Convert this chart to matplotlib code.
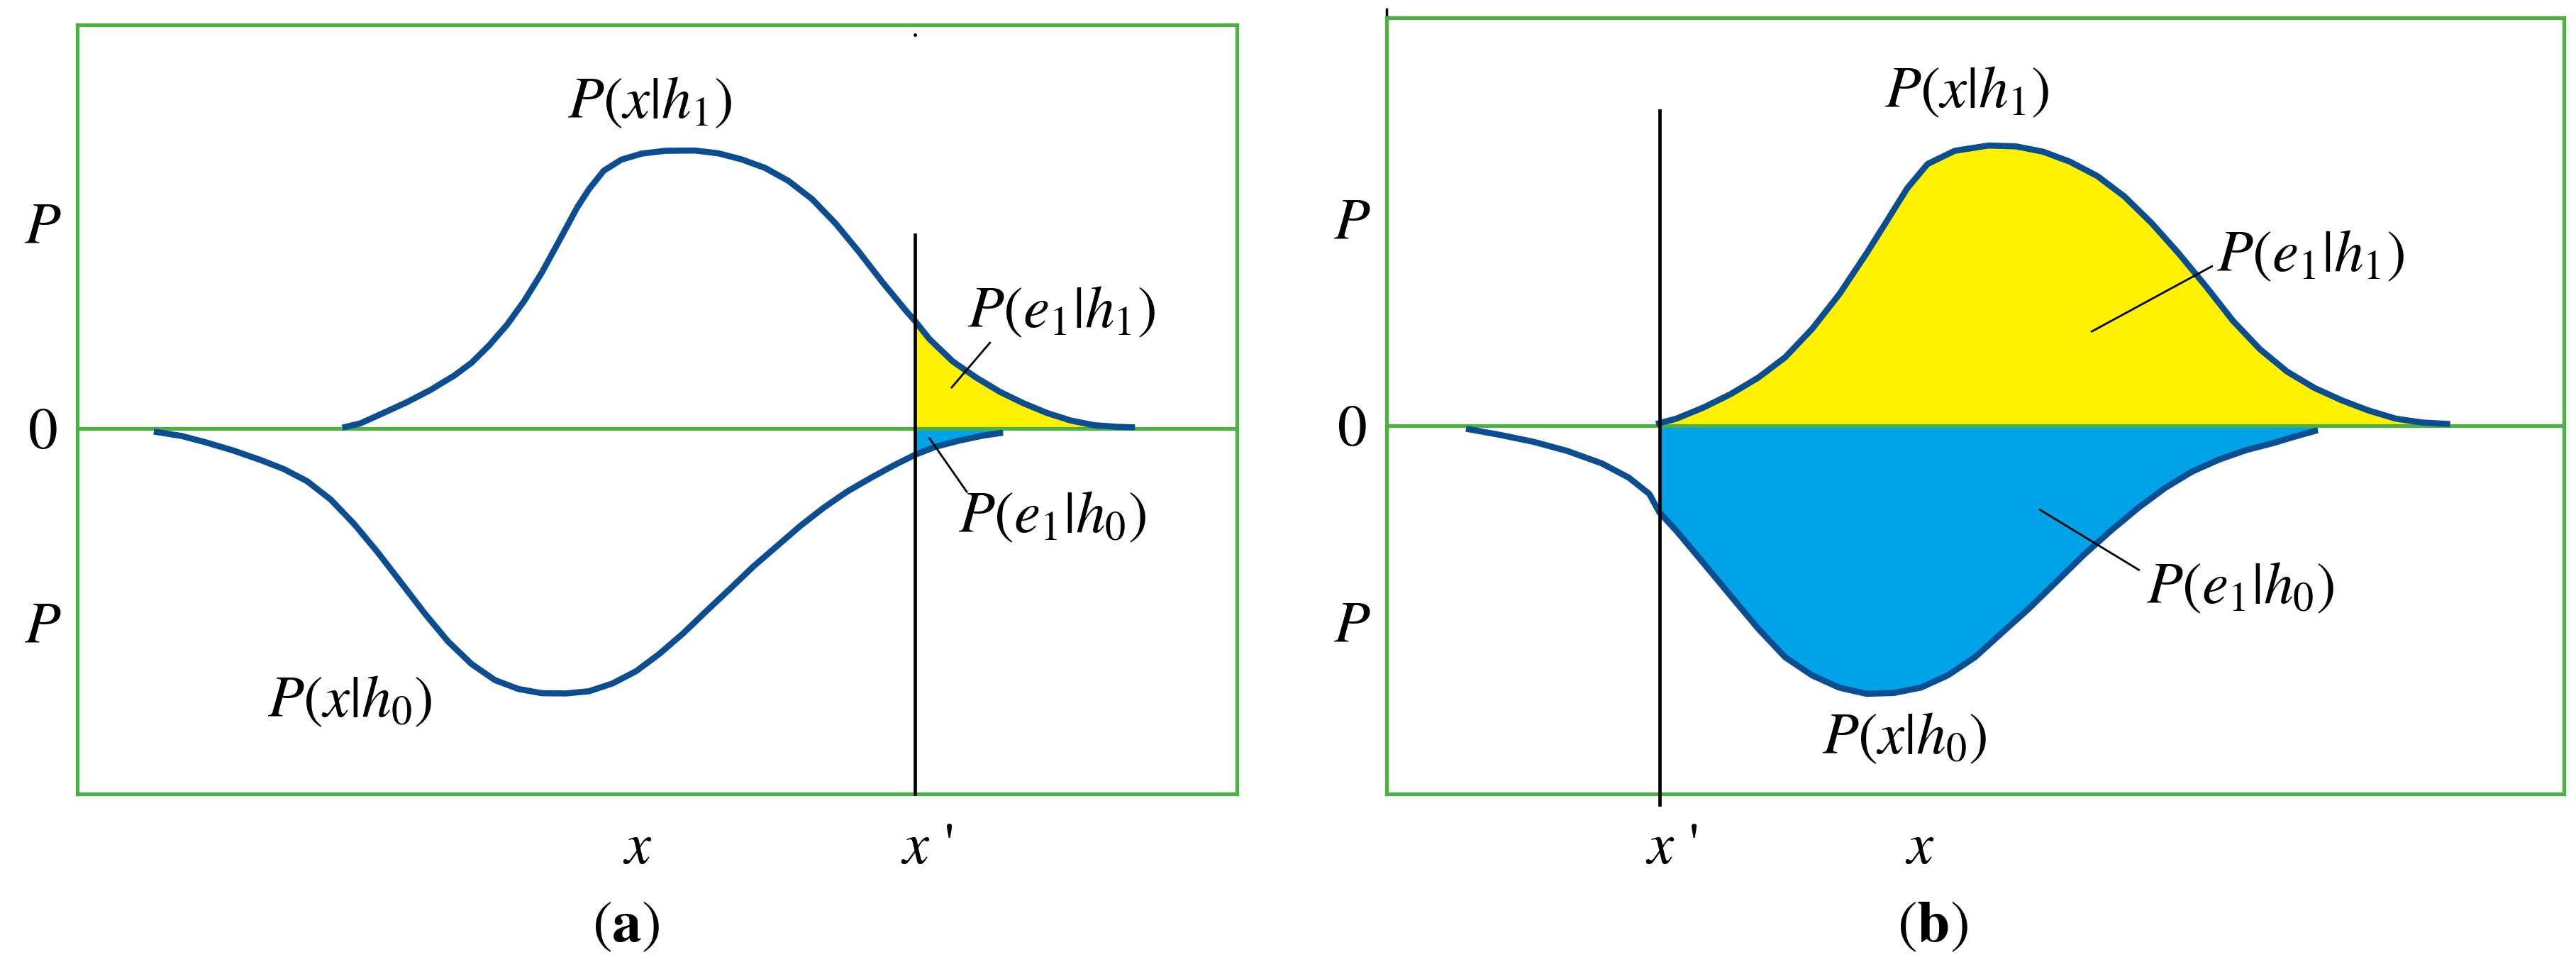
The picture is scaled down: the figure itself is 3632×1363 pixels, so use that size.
import matplotlib
matplotlib.use("Agg")
import matplotlib.pyplot as plt
import matplotlib.transforms as mtransforms
import numpy as np

plt.rcParams["mathtext.fontset"] = "stix"
plt.rcParams["font.family"] = "STIXGeneral"

# Panel (a): curves (x in 0..10 across the box, y = 1 at peak)
a_h1_x = [2.286, 2.438, 2.640, 2.843, 3.046, 3.248, 3.400, 3.552, 3.704, 3.856, 4.007, 4.160,
          4.311, 4.413, 4.539, 4.691, 4.869, 5.071, 5.324, 5.527, 5.729, 5.932, 6.134, 6.336,
          6.539, 6.742, 6.944, 7.147, 7.223, 7.349, 7.552, 7.754, 7.957, 8.159, 8.362, 8.565,
          8.767, 8.969, 9.121]
a_h1_y = [0.003, 0.018, 0.056, 0.095, 0.139, 0.190, 0.237, 0.300, 0.373, 0.461, 0.563, 0.680,
          0.797, 0.863, 0.929, 0.969, 0.991, 1.001, 1.002, 0.992, 0.970, 0.939, 0.892, 0.827,
          0.739, 0.636, 0.527, 0.424, 0.388, 0.322, 0.241, 0.183, 0.132, 0.091, 0.056, 0.029,
          0.012, 0.006, 0.004]
a_h0_x = [0.66, 0.90, 1.10, 1.35, 1.59, 1.780, 1.982, 2.185, 2.387, 2.590, 2.793, 2.995, 3.198,
          3.400, 3.602, 3.805, 4.007, 4.210, 4.413, 4.615, 4.818, 5.020, 5.223, 5.425, 5.628,
          5.831, 6.033, 6.235, 6.438, 6.640, 6.843, 7.045, 7.223, 7.400, 7.602, 7.805, 7.982]
a_h0_y = [-0.011, -0.027, -0.049, -0.080, -0.115, -0.146, -0.190, -0.256, -0.344, -0.446,
          -0.556, -0.666, -0.768, -0.849, -0.907, -0.939, -0.954, -0.955, -0.947, -0.919,
          -0.875, -0.812, -0.739, -0.658, -0.578, -0.497, -0.424, -0.351, -0.285, -0.227,
          -0.178, -0.132, -0.095, -0.066, -0.044, -0.026, -0.015]
a_xprime = 7.223
a_x = 4.83

# Panel (b)
b_h1_x = [2.289, 2.461, 2.692, 2.923, 3.154, 3.384, 3.614, 3.845, 4.076, 4.249, 4.422, 4.595,
          4.825, 5.113, 5.344, 5.575, 5.805, 6.036, 6.266, 6.497, 6.728, 6.958, 7.189, 7.419,
          7.650, 7.881, 8.111, 8.342, 8.572, 8.803, 9.033]
b_h1_y = [0.007, 0.026, 0.066, 0.114, 0.172, 0.245, 0.347, 0.471, 0.617, 0.733, 0.850, 0.937,
          0.984, 1.003, 1.000, 0.981, 0.945, 0.894, 0.821, 0.726, 0.617, 0.500, 0.376, 0.274,
          0.194, 0.136, 0.092, 0.055, 0.026, 0.012, 0.007]
b_h0_x = [0.675, 0.963, 1.251, 1.539, 1.828, 2.058, 2.231, 2.317, 2.461, 2.692, 2.923, 3.154,
          3.384, 3.614, 3.845, 4.076, 4.307, 4.537, 4.767, 4.998, 5.229, 5.459, 5.690, 5.920,
          6.151, 6.382, 6.612, 6.843, 7.073, 7.304, 7.534, 7.707, 7.909]
b_h0_y = [-0.010, -0.032, -0.057, -0.090, -0.134, -0.185, -0.243, -0.309, -0.375, -0.491,
          -0.608, -0.724, -0.827, -0.892, -0.936, -0.958, -0.955, -0.936, -0.892, -0.827,
          -0.739, -0.652, -0.557, -0.462, -0.375, -0.294, -0.222, -0.163, -0.120, -0.086,
          -0.061, -0.039, -0.015]
b_xprime = 2.317
b_x = 4.53

GREEN = "#4db043"
CURVE = "#0b4d91"
YELLOW = "#fff200"
CYAN = "#00a2e8"
FS = 60

fig = plt.figure(figsize=(36.32, 13.63), dpi=100)


def setup_axes(ax, ylim, x_ticks, x_labels, prime_idx):
    ax.set_xlim(0, 10)
    ax.set_ylim(*ylim)
    for s in ax.spines.values():
        s.set_color(GREEN)
        s.set_linewidth(3.8)
    ax.axhline(0, color=GREEN, lw=3.8, zorder=2)
    ax.set_yticks([0.74, 0, -0.70], ["$P$", "0", "$P$"], fontsize=FS)
    ax.set_xticks(x_ticks, x_labels, fontsize=FS)
    ax.tick_params(length=0)
    ax.tick_params(axis="y", pad=35)
    ax.tick_params(axis="x", pad=30)
    for lab in ax.get_yticklabels():
        lab.set_horizontalalignment("center")
    lab = ax.get_xticklabels()[prime_idx]
    lab.set_transform(lab.get_transform() + mtransforms.ScaledTranslation(0.17, 0, fig.dpi_scale_trans))


def draw_panel(ax, h1x, h1y, h0x, h0y, xprime, line_top, line_bottom):
    h1x, h1y = np.array(h1x), np.array(h1y)
    h0x, h0y = np.array(h0x), np.array(h0y)
    ax.fill_between(h1x, h1y, 0, where=h1x >= xprime - 0.05, color=YELLOW, lw=0, zorder=1)
    ax.fill_between(h0x, h0y, 0, where=h0x >= xprime - 0.01, color=CYAN, lw=0, zorder=1)
    ax.plot(h1x, h1y, color=CURVE, lw=6.2, solid_capstyle="butt", solid_joinstyle="round", zorder=3)
    ax.plot(h0x, h0y, color=CURVE, lw=6.2, solid_capstyle="butt", solid_joinstyle="round", zorder=3)
    ax.plot([xprime, xprime], [line_top, line_bottom], color="black", lw=3.4, zorder=4, clip_on=False)


# ---- panel (a)
ax1 = fig.add_axes([109 / 3632, 1 - 1119 / 1363, 1635 / 3632, 1084 / 1363])
setup_axes(ax1, (-1.317, 1.455), [a_x, a_xprime], ["$x$", "$x$ '"], 1)
draw_panel(ax1, a_h1_x, a_h1_y, a_h0_x, a_h0_y, a_xprime, 0.698, -1.317)
ax1.text(4.94, 1.171, r"$P(x|h_1)$", fontsize=FS, ha="center", va="center")
ax1.text(2.35, -0.987, r"$P(x|h_0)$", fontsize=FS, ha="center", va="center")
ax1.text(8.49, 0.417, r"$P(e_1|h_1)$", fontsize=FS, ha="center", va="center")
ax1.text(8.41, -0.322, r"$P(e_1|h_0)$", fontsize=FS, ha="center", va="center")
ax1.plot([7.87, 7.54], [0.309, 0.148], color="black", lw=2, zorder=5)
ax1.plot([7.35, 7.67], [-0.036, -0.228], color="black", lw=2, zorder=5)
ax1.plot([a_xprime], [1.42], marker="o", ms=2.5, color="black", clip_on=False)

# ---- panel (b)
ax2 = fig.add_axes([1955 / 3632, 1 - 1119 / 1363, 1660 / 3632, 1094 / 1363])
setup_axes(ax2, (-1.316, 1.460), [b_xprime, b_x], ["$x$ '", "$x$"], 0)
draw_panel(ax2, b_h1_x, b_h1_y, b_h0_x, b_h0_y, b_xprime, 1.128, -1.354)
ax2.text(4.93, 1.19, r"$P(x|h_1)$", fontsize=FS, ha="center", va="center")
ax2.text(7.85, 0.604, r"$P(e_1|h_1)$", fontsize=FS, ha="center", va="center")
ax2.text(7.25, -0.584, r"$P(e_1|h_0)$", fontsize=FS, ha="center", va="center")
ax2.text(4.40, -1.122, r"$P(x|h_0)$", fontsize=FS, ha="center", va="center")
ax2.plot([7.01, 5.99], [0.571, 0.338], color="black", lw=2, zorder=5)
ax2.plot([6.39, 5.55], [-0.515, -0.300], color="black", lw=2, zorder=5)
ax2.plot([0, 0], [1.46, 1.49], color="black", lw=2.5, clip_on=False)

fig.text(883 / 3632, 1 - 1308 / 1363, r"($\mathbf{a}$)", fontsize=FS, ha="center", va="center")
fig.text(2725 / 3632, 1 - 1308 / 1363, r"($\mathbf{b}$)", fontsize=FS, ha="center", va="center")

fig.savefig("out.png", dpi=100, facecolor="white")
